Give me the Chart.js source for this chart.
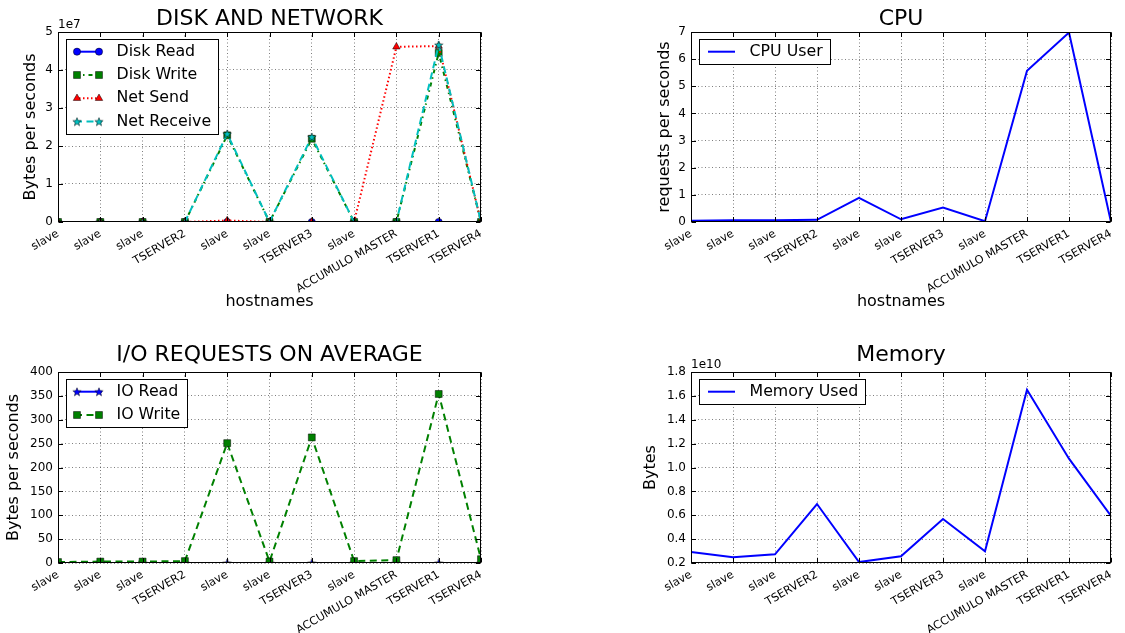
<!DOCTYPE html>
<html><head><meta charset="utf-8">
<script src="https://cdn.jsdelivr.net/npm/chart.js@4.4.1/dist/chart.umd.min.js"></script>
<style>
html,body{margin:0;padding:0;background:#fff;width:1125px;height:633px;overflow:hidden}
canvas{position:absolute}
</style></head><body>
<canvas id="c1" width="562" height="316" style="left:0px;top:0px"></canvas>
<canvas id="c2" width="563" height="316" style="left:562px;top:0px"></canvas>
<canvas id="c3" width="562" height="317" style="left:0px;top:316px"></canvas>
<canvas id="c4" width="563" height="317" style="left:562px;top:316px"></canvas>
<script>
// ---------- DATA ----------
const hostnames = ['slave','slave','slave','TSERVER2','slave','slave','TSERVER3','slave','ACCUMULO MASTER','TSERVER1','TSERVER4'];

// Disk and network (bytes per second)
const diskRead    = [0, 0, 0, 0, 0, 0, 0, 0, 0, 0, 0];
const diskWrite   = [0, 0, 0, 0, 2.28e7, 0, 2.19e7, 0, 0, 4.45e7, 0];
const netSend     = [0, 0, 0, 0, 0.04e7, 0, 0, 0, 4.61e7, 4.63e7, 0];
const netReceive  = [0, 0, 0, 0, 2.32e7, 0, 2.24e7, 0, 0, 4.66e7, 0];

// CPU
const cpuUser     = [0.05, 0.06, 0.06, 0.08, 0.89, 0.10, 0.53, 0.03, 5.57, 6.98, 0.0];

// I/O requests
const ioRead      = [0, 0, 0, 0, 0, 0, 0, 0, 0, 0, 0];
const ioWrite     = [2, 3, 3, 4, 251, 3, 263, 4, 6, 354, 8];

// Memory (bytes)
const memoryUsed  = [2.92e9, 2.48e9, 2.73e9, 6.94e9, 2.08e9, 2.56e9, 5.68e9, 2.98e9, 1.652e10, 1.074e10, 5.94e9];

// Tick definitions
const diskTicks = {min: 0, max: 5e7, step: 1e7, scale: 1e7, offset: '1e7', digits: 0};
const cpuTicks  = {min: 0, max: 7, step: 1, scale: 1, offset: '', digits: 0};
const ioTicks   = {min: 0, max: 400, step: 50, scale: 1, offset: '', digits: 0};
const memTicks  = {min: 2e9, max: 1.8e10, step: 2e9, scale: 1e10, offset: '1e10', digits: 1};

// ---------- STYLE HELPERS ----------
const FONT = '"DejaVu Sans", sans-serif';
const BLUE = '#0000ff', GREEN = '#008000', RED = '#ff0000', CYAN = '#00bfbf';

function makeStar(fill, size) {
  const c = document.createElement('canvas');
  c.width = c.height = size;
  const g = c.getContext('2d');
  const cx = size / 2, cy = size / 2 + 0.4, R = size / 2 - 0.6, r = R * 0.42;
  g.beginPath();
  for (let k = 0; k < 10; k++) {
    const ang = -Math.PI / 2 + k * Math.PI / 5;
    const rr = k % 2 ? r : R;
    g.lineTo(cx + rr * Math.cos(ang), cy + rr * Math.sin(ang));
  }
  g.closePath();
  g.fillStyle = fill; g.fill();
  g.strokeStyle = '#000'; g.lineWidth = 0.5; g.stroke();
  return c;
}
const cyanStar = makeStar(CYAN, 10);
const blueStar = makeStar(BLUE, 10);

function drawMarker(ctx, d, x, y) {
  ctx.save();
  ctx.setLineDash([]);
  const ps = d.pointStyle;
  if (ps instanceof HTMLCanvasElement) {
    ctx.drawImage(ps, x - ps.width / 2, y - ps.height / 2);
  } else {
    ctx.fillStyle = d.pointBackgroundColor;
    ctx.strokeStyle = d.pointBorderColor;
    ctx.lineWidth = d.pointBorderWidth;
    Chart.helpers.drawPoint(ctx, {pointStyle: ps, radius: d.pointRadius, borderWidth: d.pointBorderWidth, rotation: 0}, x, y);
  }
  ctx.restore();
}

const decor = {
  id: 'decor',
  afterDatasetsDraw(chart, args, opts) {
    const ctx = chart.ctx, a = chart.chartArea;
    const L = Math.round(a.left) + 0.5, T = Math.round(a.top) + 0.5;
    const R = Math.round(a.right) - 0.5, B = Math.round(a.bottom) - 0.5;
    const xs = chart.scales.x, ys = chart.scales.y;
    ctx.save();
    ctx.setLineDash([]);
    ctx.strokeStyle = '#000';
    ctx.lineWidth = 1;
    ctx.beginPath();
    xs.ticks.forEach((t, i) => {
      const px = Math.round(xs.getPixelForTick(i)) + 0.5;
      ctx.moveTo(px, B); ctx.lineTo(px, B - 4.5);
      ctx.moveTo(px, T); ctx.lineTo(px, T + 4.5);
    });
    ys.ticks.forEach((t, i) => {
      const py = Math.round(ys.getPixelForTick(i)) + 0.5;
      ctx.moveTo(L, py); ctx.lineTo(L + 4.5, py);
      ctx.moveTo(R, py); ctx.lineTo(R - 4.5, py);
    });
    ctx.stroke();
    ctx.strokeRect(L, T, R - L, B - T);

    if (opts.offsetText) {
      ctx.font = '12px ' + FONT;
      ctx.fillStyle = '#000';
      ctx.textAlign = 'left';
      ctx.textBaseline = 'alphabetic';
      ctx.fillText(opts.offsetText, a.left, a.top - 4);
    }

    // legend
    const items = chart.data.datasets;
    ctx.font = '15.8px ' + FONT;
    const maxW = Math.max(...items.map(d => ctx.measureText(d.label).width));
    const bx = Math.round(a.left + 8), by = Math.round(a.top + 7);
    const bw = Math.round(50.5 + maxW + 7), bh = Math.round(25 + (items.length - 1) * 23.3);
    ctx.fillStyle = '#fff';
    ctx.fillRect(bx, by, bw, bh);
    ctx.strokeStyle = '#000';
    ctx.strokeRect(bx + 0.5, by + 0.5, bw, bh);
    items.forEach((d, i) => {
      const cy = by + 12.7 + i * 23.3;
      ctx.save();
      ctx.strokeStyle = d.borderColor;
      ctx.lineWidth = d.borderWidth;
      ctx.setLineDash(d.borderDash || []);
      ctx.beginPath(); ctx.moveTo(bx + 9, cy); ctx.lineTo(bx + 36, cy); ctx.stroke();
      ctx.restore();
      if (d.pointRadius > 0) { drawMarker(ctx, d, bx + 11, cy); drawMarker(ctx, d, bx + 33, cy); }
      ctx.fillStyle = '#000';
      ctx.textAlign = 'left';
      ctx.textBaseline = 'middle';
      ctx.fillText(d.label, bx + 50.5, cy);
    });
    ctx.restore();
  }
};

function series(label, data, color, dash, marker, radius, order) {
  return {
    label, data,
    borderColor: color, backgroundColor: color, borderWidth: 2, borderDash: dash,
    pointStyle: marker || 'circle', pointRadius: marker ? radius : 0, pointHoverRadius: marker ? radius : 0,
    pointBackgroundColor: color, pointBorderColor: '#000', pointBorderWidth: 0.5,
    tension: 0, fill: false, clip: 0, order: order || 0
  };
}

// cfg positions are absolute page coordinates
function makeChart(id, cfg) {
  const canvas = document.getElementById(id);
  const X0 = cfg.x0, Y0 = cfg.y0, W = canvas.width, H = canvas.height;
  const L = cfg.area[0] - X0, T = cfg.area[1] - Y0, R = cfg.area[2] - X0, B = cfg.area[3] - Y0;
  const yTitleOff = 16 * 1.2 / 2 + 4;
  const pl = Math.max(0, cfg.yTitleX - X0 - yTitleOff);
  const yW = L - pl;
  const pr = W - R;
  const tc = cfg.titleY - Y0;
  const padTop = tc - 11, padBottom = T - padTop - 22;
  let pb = 0;
  if (cfg.xTitle) pb = Math.max(0, H - (cfg.xTitleY - Y0) - yTitleOff);
  const hX = H - pb - B;
  const tk = cfg.ticks;

  return new Chart(canvas, {
    type: 'line',
    data: {labels: hostnames, datasets: cfg.datasets},
    plugins: [decor],
    options: {
      responsive: false, animation: false, devicePixelRatio: 1,
      layout: {padding: {left: pl, right: pr, top: 0, bottom: pb}},
      plugins: {
        legend: {display: false}, tooltip: {enabled: false},
        title: {display: true, text: cfg.title, fullSize: false, color: '#000',
                font: {family: FONT, size: 22, weight: 'normal', lineHeight: 1},
                padding: {top: padTop, bottom: padBottom}},
        decor: {offsetText: tk.offset}
      },
      scales: {
        x: {
          type: 'category', offset: false,
          grid: {display: true, color: 'rgba(0,0,0,0.5)', lineWidth: 1, drawTicks: false},
          border: {display: false, dash: [1, 2.5]},
          ticks: {autoSkip: false, minRotation: 30, maxRotation: 30, padding: 5, color: '#000',
                  font: {family: FONT, size: 11.3}},
          title: {display: !!cfg.xTitle, text: cfg.xTitle || '', color: '#000',
                  font: {family: FONT, size: 16, lineHeight: 1.2}, padding: {top: 4, bottom: 4}},
          afterFit: s => { s.height = hX; }
        },
        y: {
          min: tk.min, max: tk.max,
          grid: {display: true, color: 'rgba(0,0,0,0.5)', lineWidth: 1, drawTicks: false},
          border: {display: false, dash: [1, 2.5]},
          ticks: {stepSize: tk.step, padding: 5, color: '#000', font: {family: FONT, size: 12},
                  callback: v => (v / tk.scale).toFixed(tk.digits)},
          title: {display: true, text: cfg.yTitle, color: '#000',
                  font: {family: FONT, size: 16, lineHeight: 1.2}, padding: {top: 4, bottom: 4}},
          afterFit: s => { s.width = yW; }
        }
      }
    }
  });
}

makeChart('c1', {
  x0: 0, y0: 0, area: [58, 32, 481, 222],
  title: 'DISK AND NETWORK', titleY: 19.5,
  yTitle: 'Bytes per seconds', yTitleX: 30.5,
  xTitle: 'hostnames', xTitleY: 302,
  ticks: diskTicks,
  datasets: [
    series('Disk Read', diskRead, BLUE, [], 'circle', 3.6, 4),
    series('Disk Write', diskWrite, GREEN, [4, 4, 1.5, 4], 'rect', 4.9, 3),
    series('Net Send', netSend, RED, [1.5, 2.5], 'triangle', 4.3, 2),
    series('Net Receive', netReceive, CYAN, [7, 4.5], cyanStar, 5, 1)
  ]
});

makeChart('c2', {
  x0: 562, y0: 0, area: [691, 32, 1111, 222],
  title: 'CPU', titleY: 19.5,
  yTitle: 'requests per seconds', yTitleX: 664.5,
  xTitle: 'hostnames', xTitleY: 302,
  ticks: cpuTicks,
  datasets: [ series('CPU User', cpuUser, BLUE, [], null, 0, 1) ]
});

makeChart('c3', {
  x0: 0, y0: 316, area: [58, 372, 481, 563],
  title: 'I/O REQUESTS ON AVERAGE', titleY: 355.5,
  yTitle: 'Bytes per seconds', yTitleX: 13.8,
  ticks: ioTicks,
  datasets: [
    series('IO Read', ioRead, BLUE, [], blueStar, 5, 2),
    series('IO Write', ioWrite, GREEN, [7, 4.5], 'rect', 4.9, 1)
  ]
});

makeChart('c4', {
  x0: 562, y0: 316, area: [691, 372, 1111, 563],
  title: 'Memory', titleY: 355.5,
  yTitle: 'Bytes', yTitleX: 650.8,
  ticks: memTicks,
  datasets: [ series('Memory Used', memoryUsed, BLUE, [], null, 0, 1) ]
});
</script>
</body></html>
